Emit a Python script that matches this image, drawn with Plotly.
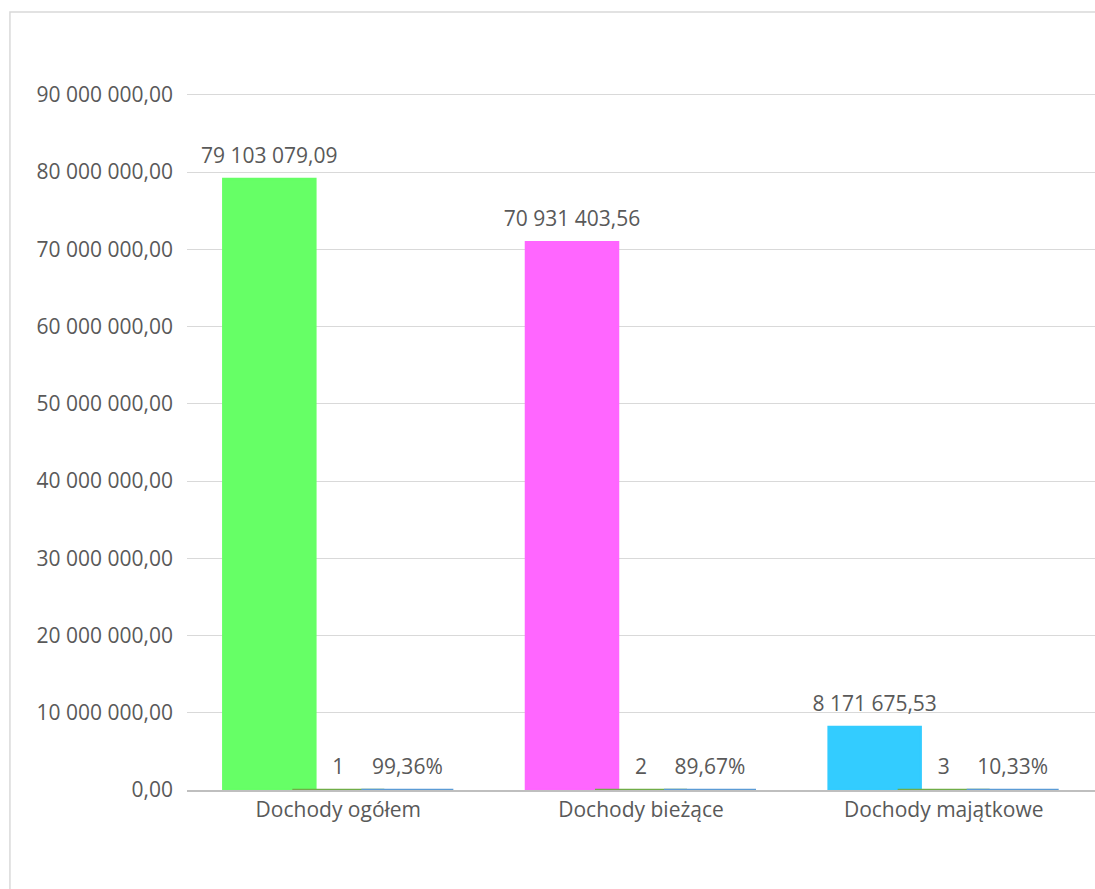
import plotly.graph_objects as go

# Data
categories = ["Dochody ogółem", "Dochody bieżące", "Dochody majątkowe"]
amounts = [79103079.09, 70931403.56, 8171675.53]
ordinals = [1, 2, 3]
shares = [0.9936, 0.8967, 0.1033]
ytick_vals = [0, 10e6, 20e6, 30e6, 40e6, 50e6, 60e6, 70e6, 80e6, 90e6]

bar_colors = ["#66FF66", "#FF66FF", "#33CCFF"]
text_color = "#595959"
font_family = "Open Sans"
font_size = 21


def pl_number(v):
    # Polish style: space as thousands separator, comma as decimal mark
    return f"{v:,.2f}".replace(",", " ").replace(".", ",")


def pl_percent(v):
    return f"{v * 100:.2f}".replace(".", ",") + "%"


pos = list(range(len(categories)))
width = 0.304
step = 0.228  # bars overlap a bit, like in the original
series = [
    (amounts, bar_colors, [pl_number(v) for v in amounts], -step),
    (ordinals, "#70AD47", [str(v) for v in ordinals], 0.0),
    (shares, "#5B9BD5", [pl_percent(v) for v in shares], step),
]

fig = go.Figure()
for vals, color, labels, shift in series:
    fig.add_trace(go.Bar(
        x=pos, y=vals,
        width=width, offset=shift - width / 2,
        marker=dict(color=color, line=dict(color=color, width=2.5)),
        hoverinfo="skip",
    ))
for vals, color, labels, shift in series:
    fig.add_trace(go.Scatter(
        x=[p + shift for p in pos], y=vals,
        mode="markers+text",
        marker=dict(size=16, opacity=0),
        text=labels, textposition="top center",
        textfont=dict(color=text_color, size=font_size, family=font_family),
        cliponaxis=False, hoverinfo="skip",
    ))

fig.update_layout(
    width=1095, height=889,
    barmode="overlay",
    showlegend=False,
    plot_bgcolor="white",
    paper_bgcolor="white",
    margin=dict(l=187, r=0, t=91, b=99),
    font=dict(family=font_family, size=font_size, color=text_color),
    xaxis=dict(
        range=[-0.5, 2.5],
        tickvals=pos, ticktext=categories,
        showgrid=False, zeroline=False,
        showline=True, linecolor="#BFBFBF", linewidth=2,
        ticks="", ticklabelstandoff=0,
        layer="below traces",
        tickfont=dict(color=text_color, size=font_size),
    ),
    yaxis=dict(
        range=[0, 90.5e6],
        tickvals=ytick_vals,
        ticktext=[pl_number(v) for v in ytick_vals],
        showgrid=True, gridcolor="#D9D9D9", gridwidth=1.3,
        zeroline=False, showline=False,
        ticks="", ticklabelstandoff=13,
        layer="below traces",
        tickfont=dict(color=text_color, size=font_size),
    ),
    shapes=[dict(
        type="rect", xref="paper", yref="paper",
        x0=-0.195, x1=1.02, y0=-0.16, y1=1.113,
        line=dict(color="#D9D9D9", width=1.5),
        layer="below",
    )],
)

fig.write_html(
    "out.html",
    config={"displayModeBar": False},
    post_script="document.body.style.margin='0';",
)
